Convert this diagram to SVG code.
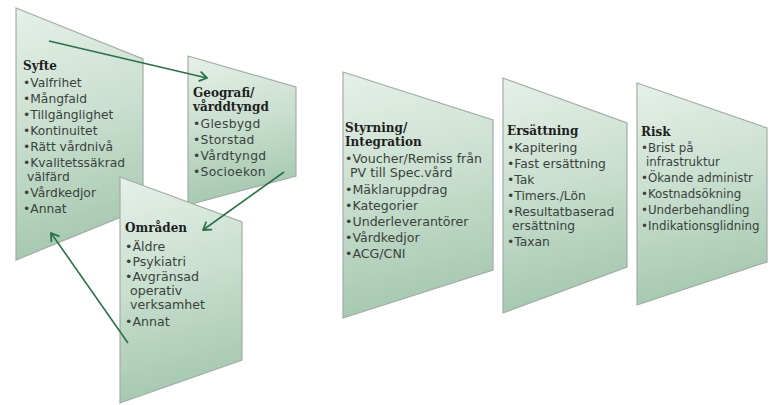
<svg xmlns="http://www.w3.org/2000/svg" width="769" height="405" viewBox="0 0 769 405">
  <defs>
    <linearGradient id="panelFill" x1="0" y1="0" x2="0.15" y2="1">
      <stop offset="0" stop-color="#e6f0e9"/>
      <stop offset="0.5" stop-color="#c9dfcf"/>
      <stop offset="1" stop-color="#a6c8b0"/>
    </linearGradient>
    <marker id="chevron" markerWidth="12" markerHeight="12" refX="9" refY="6" orient="auto" markerUnits="userSpaceOnUse">
      <path d="M2,1.5 L9,6 L2,10.5" fill="none" stroke="#2c7048" stroke-width="1.8" stroke-linecap="round" stroke-linejoin="round"/>
    </marker>
  </defs>
  <style>
    .panel { fill: url(#panelFill); stroke: #a3aca5; stroke-width: 1.2; }
    .head { font-family: "DejaVu Serif", "Liberation Serif", serif; font-weight: bold; font-size: 12px; fill: #1e1e1e; }
    .item { font-family: "DejaVu Sans", "Liberation Sans", sans-serif; font-size: 12.3px; fill: #3a423c; }
    .conn { fill: none; stroke: #2c7048; stroke-width: 1.6; marker-end: url(#chevron); }
    #omraden .item { font-size: 12.6px; }
    #styrning .item { font-size: 12.6px; }
    #ersattning .item { font-size: 12.3px; }
    #risk .item { font-size: 11.8px; }
  </style>
  <rect width="769" height="405" fill="#ffffff"/>

  <!-- left cluster -->
  <g id="syfte">
    <polygon class="panel" points="16,8 143,59 143,208 16,260"/>
    <text class="head" x="23" y="70">Syfte</text>
    <text class="item" x="23" y="87">•Valfrihet</text>
    <text class="item" x="23" y="103">•Mångfald</text>
    <text class="item" x="23" y="119">•Tillgänglighet</text>
    <text class="item" x="23" y="135">•Kontinuitet</text>
    <text class="item" x="23" y="151">•Rätt vårdnivå</text>
    <text class="item" x="23" y="167">•Kvalitetssäkrad</text>
    <text class="item" x="27" y="181">välfärd</text>
    <text class="item" x="23" y="197">•Vårdkedjor</text>
    <text class="item" x="23" y="213">•Annat</text>
  </g>

  <g id="geografi">
    <polygon class="panel" points="188,56 296,87 296,176 188,205"/>
    <text class="head" x="193" y="97">Geografi/</text>
    <text class="head" x="193" y="111">vårddtyngd</text>
    <text class="item" x="193" y="128" letter-spacing="0.3">•Glesbygd</text>
    <text class="item" x="193" y="144" letter-spacing="0.3">•Storstad</text>
    <text class="item" x="193" y="160" letter-spacing="0.3">•Vårdtyngd</text>
    <text class="item" x="193" y="176" letter-spacing="0.3">•Socioekon</text>
  </g>

  <g id="omraden">
    <polygon class="panel" points="120,177 242,222 242,360 120,403"/>
    <text class="head" x="125" y="232">Områden</text>
    <text class="item" x="125" y="251">•Äldre</text>
    <text class="item" x="125" y="266">•Psykiatri</text>
    <text class="item" x="125" y="281">•Avgränsad</text>
    <text class="item" x="130" y="295">operativ</text>
    <text class="item" x="130" y="309">verksamhet</text>
    <text class="item" x="125" y="326">•Annat</text>
  </g>

  <!-- right row -->
  <g id="styrning">
    <polygon class="panel" points="343,72 493,120 493,270 343,318"/>
    <text class="head" x="345" y="132">Styrning/</text>
    <text class="head" x="345" y="146">Integration</text>
    <text class="item" x="345" y="163">•Voucher/Remiss från</text>
    <text class="item" x="350" y="177">PV till  Spec.vård</text>
    <text class="item" x="345" y="194">•Mäklaruppdrag</text>
    <text class="item" x="345" y="210">•Kategorier</text>
    <text class="item" x="345" y="226">•Underleverantörer</text>
    <text class="item" x="345" y="242">•Vårdkedjor</text>
    <text class="item" x="345" y="258">•ACG/CNI</text>
  </g>

  <g id="ersattning">
    <polygon class="panel" points="503,78 627,123 627,267 503,313"/>
    <text class="head" x="507" y="135">Ersättning</text>
    <text class="item" x="507" y="152">•Kapitering</text>
    <text class="item" x="507" y="168">•Fast ersättning</text>
    <text class="item" x="507" y="184">•Tak</text>
    <text class="item" x="507" y="200">•Timers./Lön</text>
    <text class="item" x="507" y="216">•Resultatbaserad</text>
    <text class="item" x="512" y="230">ersättning</text>
    <text class="item" x="507" y="246">•Taxan</text>
  </g>

  <g id="risk">
    <polygon class="panel" points="637,83 767,128 767,262 637,305"/>
    <text class="head" x="641" y="136">Risk</text>
    <text class="item" x="641" y="152">•Brist på</text>
    <text class="item" x="646" y="166">infrastruktur</text>
    <text class="item" x="641" y="182">•Ökande administr</text>
    <text class="item" x="641" y="198">•Kostnadsökning</text>
    <text class="item" x="641" y="214">•Underbehandling</text>
    <text class="item" x="641" y="230">•Indikationsglidning</text>
  </g>

  <!-- connectors -->
  <g id="connectors">
    <line class="conn" x1="49" y1="41" x2="207" y2="78"/>
    <line class="conn" x1="284" y1="172" x2="203" y2="230"/>
    <line class="conn" x1="128" y1="343" x2="51" y2="233"/>
  </g>
</svg>
